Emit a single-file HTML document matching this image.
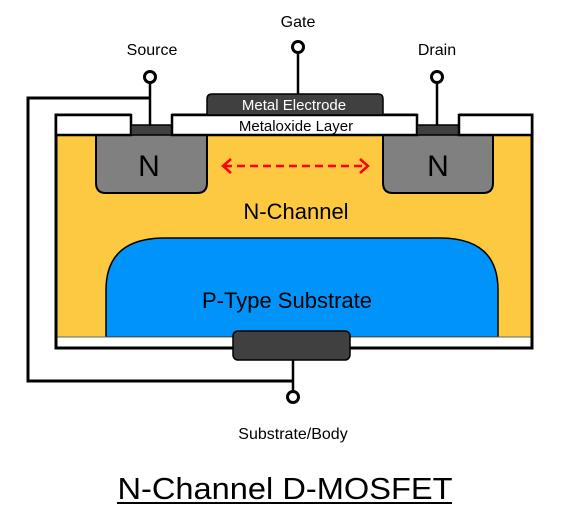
<!DOCTYPE html>
<html><head><style>body{margin:0;background:#fff}svg{display:block}</style></head><body>
<svg width="565" height="525" viewBox="0 0 565 525" xmlns="http://www.w3.org/2000/svg" font-family="Liberation Sans, Arial, sans-serif">
<rect width="565" height="525" fill="#fff"/>
<polyline points="150,98 28,98 28,381 293,381" fill="none" stroke="#000" stroke-width="3"/>
<rect x="56" y="115" width="476" height="233" fill="#fdc940" stroke="#000" stroke-width="3"/>
<path d="M106,337 L106,290 Q106,238 165,238 L440,238 Q498,238 498,290 L498,337 Z" fill="#0094fb" stroke="#000" stroke-width="1.5"/>
<rect x="57" y="337" width="474" height="10" fill="#fff"/>
<line x1="56" y1="337" x2="532" y2="337" stroke="#666" stroke-width="1"/>
<rect x="56" y="115" width="476" height="233" fill="none" stroke="#000" stroke-width="3"/>
<!-- clear above contacts -->
<rect x="131" y="112" width="41" height="13" fill="#fff"/>
<rect x="417" y="112" width="42" height="13" fill="#fff"/>
<path d="M96,135 L96,183 Q96,193 106,193 L197,193 Q207,193 207,183 L207,135" fill="#808080" stroke="#000" stroke-width="2"/>
<path d="M383,135 L383,183 Q383,193 393,193 L483,193 Q493,193 493,183 L493,135" fill="#808080" stroke="#000" stroke-width="2"/>
<text x="149" y="176" font-size="30" text-anchor="middle">N</text>
<text x="438" y="176" font-size="30" text-anchor="middle">N</text>
<rect x="56" y="115" width="75" height="20" fill="#fff" stroke="#000" stroke-width="2.5"/>
<rect x="131" y="125" width="41" height="10" fill="#404040" stroke="#000" stroke-width="1.5"/>
<rect x="172" y="115" width="245" height="20" fill="#fff" stroke="#000" stroke-width="2.5"/>
<rect x="417" y="125" width="42" height="10" fill="#404040" stroke="#000" stroke-width="1.5"/>
<rect x="459" y="115" width="73" height="20" fill="#fff" stroke="#000" stroke-width="2.5"/>
<path d="M207,115 L207,99 Q207,94 212,94 L378,94 Q383,94 383,99 L383,115 Z" fill="#404040" stroke="#000" stroke-width="1.5"/>
<text x="294" y="110" font-size="15" fill="#fff" text-anchor="middle">Metal Electrode</text>
<text x="296" y="131" font-size="15" text-anchor="middle">Metaloxide Layer</text>
<line x1="224" y1="166" x2="367" y2="166" stroke="#f00" stroke-width="2.5" stroke-dasharray="8,5"/>
<polyline points="231,159 223,166 231,173" fill="none" stroke="#f00" stroke-width="2.5"/>
<polyline points="360,159 368,166 360,173" fill="none" stroke="#f00" stroke-width="2.5"/>
<text x="296" y="219" font-size="22" text-anchor="middle">N-Channel</text>
<text x="287" y="308" font-size="22" text-anchor="middle">P-Type Substrate</text>
<line x1="150" y1="83" x2="150" y2="125" stroke="#000" stroke-width="2.5"/>
<circle cx="150" cy="77" r="5.5" fill="#fff" stroke="#000" stroke-width="3"/>
<line x1="298" y1="53" x2="298" y2="94" stroke="#000" stroke-width="2.5"/>
<circle cx="298" cy="47" r="5.5" fill="#fff" stroke="#000" stroke-width="3"/>
<line x1="437" y1="83" x2="437" y2="125" stroke="#000" stroke-width="2.5"/>
<circle cx="437" cy="77" r="5.5" fill="#fff" stroke="#000" stroke-width="3"/>
<rect x="233" y="331" width="117" height="29" rx="5" fill="#404040" stroke="#000" stroke-width="1.5"/>
<line x1="293" y1="360" x2="293" y2="391" stroke="#000" stroke-width="2.5"/>
<circle cx="293" cy="397" r="5.5" fill="#fff" stroke="#000" stroke-width="3"/>
<text x="152" y="55" font-size="16" text-anchor="middle">Source</text>
<text x="298" y="27" font-size="16" text-anchor="middle">Gate</text>
<text x="437" y="55" font-size="16" text-anchor="middle">Drain</text>
<text x="293" y="439" font-size="16" text-anchor="middle">Substrate/Body</text>
<text x="285" y="499" font-size="31" text-anchor="middle" textLength="335" lengthAdjust="spacingAndGlyphs">N-Channel D-MOSFET</text>
<line x1="117" y1="503" x2="452" y2="503" stroke="#000" stroke-width="2"/>
</svg>
</body></html>
